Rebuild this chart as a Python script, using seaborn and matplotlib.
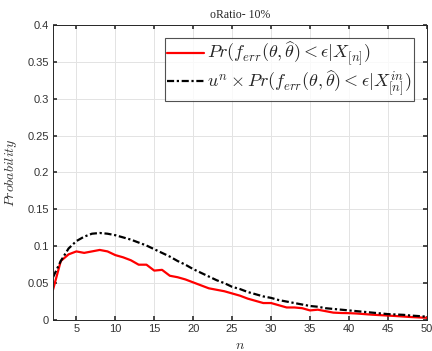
import numpy as np
import pandas as pd
import matplotlib
matplotlib.use("Agg")
import matplotlib.pyplot as plt
import seaborn as sns

n_vals = list(range(2, 51))

pr_cond = [0.041, 0.080, 0.089, 0.093, 0.091, 0.093, 0.095, 0.093, 0.088, 0.085,
           0.081, 0.075, 0.075, 0.067, 0.068, 0.060, 0.058, 0.055, 0.051, 0.047,
           0.043, 0.041, 0.039, 0.036, 0.033, 0.029, 0.026, 0.023, 0.023, 0.020,
           0.017, 0.017, 0.016, 0.013, 0.014, 0.012, 0.010, 0.0095, 0.0093, 0.0088,
           0.008, 0.0072, 0.0066, 0.006, 0.0054, 0.0047, 0.004, 0.0035, 0.003]

pr_inlier = [0.058, 0.080, 0.097, 0.107, 0.113, 0.117, 0.118, 0.117, 0.115, 0.112,
             0.109, 0.105, 0.101, 0.096, 0.091, 0.086, 0.080, 0.075, 0.069, 0.064,
             0.059, 0.054, 0.050, 0.045, 0.042, 0.038, 0.035, 0.032, 0.030, 0.027,
             0.025, 0.023, 0.021, 0.019, 0.018, 0.016, 0.015, 0.014, 0.013, 0.012,
             0.011, 0.010, 0.009, 0.008, 0.0075, 0.007, 0.006, 0.0053, 0.0045]

label_a = r'$Pr(f_{err}(\theta,\widehat{\theta}) < \epsilon | X_{[n]})$'
label_b = r'$u^n \times Pr(f_{err}(\theta,\widehat{\theta}) < \epsilon | X^{in}_{[n]})$'

sns.set_theme(style="ticks")
plt.rcParams["mathtext.fontset"] = "cm"
plt.rcParams["font.family"] = ["Liberation Sans", "DejaVu Sans"]

df = pd.DataFrame({"n": n_vals, "a": pr_cond, "b": pr_inlier})

fig = plt.figure(figsize=(4.32, 3.51), dpi=100)
ax = fig.add_axes([0.1227, 0.0883, 0.8653, 0.8405])

sns.lineplot(data=df, x="n", y="a", ax=ax, color="#ff0000", linewidth=1.6, label=label_a)
sns.lineplot(data=df, x="n", y="b", ax=ax, color="black", linewidth=1.6,
             dashes=False, label=label_b)
ax.lines[1].set_dashes((3.2, 1.2, 1.0, 1.2))

ax.set_xlim(2, 50)
ax.set_ylim(0, 0.4)
ax.set_xticks(range(5, 51, 5))
ax.set_yticks([0, 0.05, 0.1, 0.15, 0.2, 0.25, 0.3, 0.35, 0.4])
ax.set_yticklabels(["0", "0.05", "0.1", "0.15", "0.2", "0.25", "0.3", "0.35", "0.4"])
ax.grid(True, color="#e3e3e3", linewidth=0.7)
ax.tick_params(direction="in", length=3, labelsize=8, colors="#333333",
               top=True, right=True, pad=3)
for sp in ax.spines.values():
    sp.set_color("#262626")
    sp.set_linewidth(0.7)

ax.set_xlabel(r"$n$", fontsize=10, color="#333333", labelpad=3)
ax.set_ylabel(r"$Probability$", fontsize=10, color="#333333", labelpad=6)
ax.set_title("oRatio- 10%", fontsize=8.5, family="Liberation Serif", color="#262626", pad=5)

leg = ax.legend(loc="upper right", fontsize=13, frameon=True, fancybox=False,
                edgecolor="#262626", handlelength=2.0, handletextpad=0.2,
                borderpad=0.15, labelspacing=0.0, borderaxespad=0.7)
leg.get_frame().set_linewidth(0.8)

fig.savefig("out.png", dpi=100)
